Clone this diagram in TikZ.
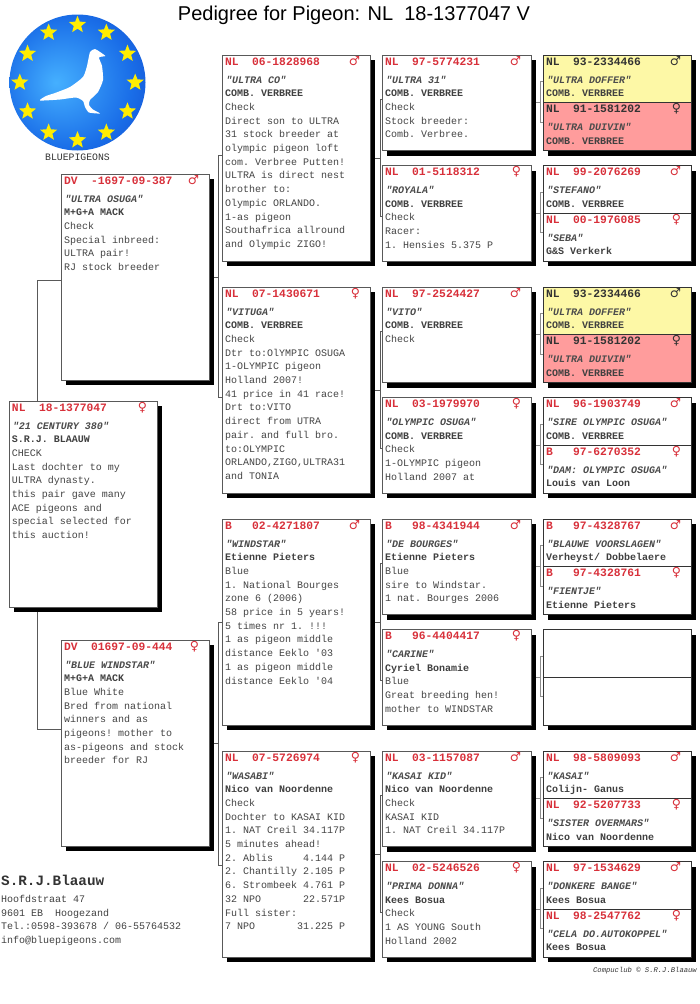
\documentclass[tikz,border=0pt]{standalone}
\usepackage{fontspec}
\setmonofont{Liberation Mono}
\setsansfont{Liberation Sans}
\newfontfamily\sexfont{DejaVu Sans}
\usepackage{xcolor}
\usepackage{tikz}
\usetikzlibrary{positioning, shapes.geometric, shadows, backgrounds}

\definecolor{ringred}{HTML}{D8303A}
\definecolor{bodygray}{HTML}{444444}
\definecolor{hiyellow}{HTML}{FDF8A6}
\definecolor{hipink}{HTML}{FF9C9C}
\definecolor{logolight}{HTML}{45B0FF}
\definecolor{logomid}{HTML}{1A6EE8}
\definecolor{logodark}{HTML}{0A2CB8}
\colorlet{ringcol}{ringred}
\pgfdeclareradialshading{logoblue}{\pgfpoint{-8bp}{0bp}}{color(0bp)=(logolight); color(24bp)=(logomid); color(50bp)=(logodark)}

\newcommand{\ring}[2]{{\fontsize{11.3}{13.7}\selectfont\bfseries\color{ringcol}#1\hfill{\sexfont\bfseries\fontsize{12.5}{13.7}\selectfont#2}\hspace{7pt}}}
\newcommand{\pname}[1]{{\bfseries\itshape\color{black!70}\hspace{1pt}"#1"}}
\newcommand{\owner}[1]{{\bfseries\color{black!75}#1}}

\begin{document}
\begin{tikzpicture}[x=1pt, y=-1pt,
    card/.style={rectangle, draw=black!65, line width=0.8pt, fill=white, outer sep=0pt, inner xsep=3pt, inner ysep=2pt,
        text width=142pt, align=flush left, text height=8pt, font=\ttfamily\fontsize{10}{13.7}\selectfont, text=bodygray,
        drop shadow={shadow xshift=5pt, shadow yshift=-5pt, fill=black, opacity=1}},
    bigcard/.style={card, text depth=194pt},
    midcard/.style={card, text width=143pt, text depth=83.5pt},
    smallcard/.style={card, draw=black!80, text depth=35.75pt},
    yellowcard/.style={smallcard, fill=hiyellow, execute at begin node=\colorlet{ringcol}{black!80}},
    pinkcard/.style={smallcard, fill=hipink, execute at begin node=\colorlet{ringcol}{black!80}},
    link/.style={draw=black!65, line width=0.8pt},
    eustar/.style={star, star points=5, star point ratio=2.3, fill=yellow!95!orange, minimum size=18pt, inner sep=0pt},
    plain/.style={font=\ttfamily\fontsize{10}{13.7}\selectfont, text=black!80, align=left, inner sep=0pt},
]
\useasboundingbox (0,0) rectangle (700,1004);

\node[font=\sffamily\fontsize{20}{24}\selectfont] (title) at (354,15) {Pedigree for Pigeon: NL\ \ 18-1377047 V};

% logo
\node[circle, minimum size=136pt, inner sep=0pt, shading=logoblue] (logo) at (77.5,82.5) {};
\foreach \a in {0,30,...,330}
    \node[eustar] at ([shift={(\a:57.7)}]logo.center) {};
\fill[white] plot[smooth cycle, tension=0.35] coordinates {(105.3,56) (100,52) (95,49) (90,52) (87,66) (83,77) (70,87) (55,93) (46,96) (40,100.5) (60,99.5) (76,97.5) (83,101) (85,107) (89,112.5) (100,113.5) (93,109.5) (89,105) (90,100) (98,92) (103,80) (102,66) (99,57.5)};
\node[plain, font=\ttfamily\fontsize{9.8}{12}\selectfont, below=3pt of logo] (logoname) {BLUEPIGEONS};

% generation 1 and 2
\node[bigcard, anchor=north west] (root) at (9,401) {\ring{NL\ \ 18-1377047}{♀}\\[4.3pt]\pname{21 CENTURY 380}\\\owner{S.R.J. BLAAUW}\\CHECK\\Last dochter to my\\ULTRA dynasty.\\this pair gave many\\ACE pigeons and\\special selected for\\this auction!};
\node[bigcard, above right=21pt and 52pt of root.north west] (s) {\ring{DV\ \ -1697-09-387}{♂}\\[4.3pt]\pname{ULTRA OSUGA}\\\owner{M+G+A MACK}\\Check\\Special inbreed:\\ULTRA pair!\\RJ stock breeder};
\node[bigcard, below right=33pt and 52pt of root.south west] (d) {\ring{DV\ \ 01697-09-444}{♀}\\[4.3pt]\pname{BLUE WINDSTAR}\\\owner{M+G+A MACK}\\Blue White\\Bred from national\\winners and as\\pigeons! mother to\\as-pigeons and stock\\breeder for RJ};

% generation 3
\node[bigcard, anchor=north west] (ss) at (222,55) {\ring{NL\ \ 06-1828968}{♂}\\[4.3pt]\pname{ULTRA CO}\\\owner{COMB. VERBREE}\\Check\\Direct son to ULTRA\\31 stock breeder at\\olympic pigeon loft\\com. Verbree Putten!\\ULTRA is direct nest\\brother to:\\Olympic ORLANDO.\\1-as pigeon\\Southafrica allround\\and Olympic ZIGO!};
\node[bigcard, below=26pt of ss] (sd) {\ring{NL\ \ 07-1430671}{♀}\\[4.3pt]\pname{VITUGA}\\\owner{COMB. VERBREE}\\Check\\Dtr to:OlYMPIC OSUGA\\1-OLYMPIC pigeon\\Holland 2007!\\41 price in 41 race!\\Drt to:VITO\\direct from UTRA\\pair. and full bro.\\to:OLYMPIC\\ORLANDO,ZIGO,ULTRA31\\and TONIA};
\node[bigcard, below=26pt of sd] (ds) {\ring{B\ \ \ 02-4271807}{♂}\\[4.3pt]\pname{WINDSTAR}\\\owner{Etienne Pieters}\\Blue\\1. National Bourges\\zone 6 (2006)\\58 price in 5 years!\\5 times nr 1. !!!\\1 as pigeon middle\\distance Eeklo '03\\1 as pigeon middle\\distance Eeklo '04};
\node[bigcard, below=26pt of ds] (dd) {\ring{NL\ \ 07-5726974}{♀}\\[4.3pt]\pname{WASABI}\\\owner{Nico van Noordenne}\\Check\\Dochter to KASAI KID\\1. NAT Creil 34.117P\\5 minutes ahead!\\2. Ablis\ \ \ \ \ 4.144 P\\2. Chantilly 2.105 P\\6. Strombeek 4.761 P\\32 NPO\ \ \ \ \ \ \ 22.571P\\Full sister:\\7 NPO\ \ \ \ \ \ \ 31.225 P};

% generation 4
\node[midcard, below right=0pt and 12pt of ss.north east] (sss) {\ring{NL\ \ 97-5774231}{♂}\\[4.3pt]\pname{ULTRA 31}\\\owner{COMB. VERBREE}\\Check\\Stock breeder:\\Comb. Verbree.};
\node[midcard, below=15pt of sss] (ssd) {\ring{NL\ \ 01-5118312}{♀}\\[4.3pt]\pname{ROYALA}\\\owner{COMB. VERBREE}\\Check\\Racer:\\1. Hensies 5.375 P};
\node[midcard, below right=0pt and 12pt of sd.north east] (sds) {\ring{NL\ \ 97-2524427}{♂}\\[4.3pt]\pname{VITO}\\\owner{COMB. VERBREE}\\Check};
\node[midcard, below=15pt of sds] (sdd) {\ring{NL\ \ 03-1979970}{♀}\\[4.3pt]\pname{OLYMPIC OSUGA}\\\owner{COMB. VERBREE}\\Check\\1-OLYMPIC pigeon\\Holland 2007 at};
\node[midcard, below right=0pt and 12pt of ds.north east] (dss) {\ring{B\ \ \ 98-4341944}{♂}\\[4.3pt]\pname{DE BOURGES}\\\owner{Etienne Pieters}\\Blue\\sire to Windstar.\\1 nat. Bourges 2006};
\node[midcard, below=15pt of dss] (dsd) {\ring{B\ \ \ 96-4404417}{♀}\\[4.3pt]\pname{CARINE}\\\owner{Cyriel Bonamie}\\Blue\\Great breeding hen!\\mother to WINDSTAR};
\node[midcard, below right=0pt and 12pt of dd.north east] (dds) {\ring{NL\ \ 03-1157087}{♂}\\[4.3pt]\pname{KASAI KID}\\\owner{Nico van Noordenne}\\Check\\KASAI KID\\1. NAT Creil 34.117P};
\node[midcard, below=15pt of dds] (ddd) {\ring{NL\ \ 02-5246526}{♀}\\[4.3pt]\pname{PRIMA DONNA}\\\owner{Kees Bosua}\\Check\\1 AS YOUNG South\\Holland 2002};

% generation 5
\node[yellowcard, below right=0pt and 12pt of sss.north east] (ssss) {\ring{NL\ \ 93-2334466}{♂}\\[4.3pt]\pname{ULTRA DOFFER}\\\owner{COMB. VERBREE}};
\node[pinkcard, below=0pt of ssss] (sssd) {\ring{NL\ \ 91-1581202}{♀}\\[4.3pt]\pname{ULTRA DUIVIN}\\\owner{COMB. VERBREE}};
\node[smallcard, below right=0pt and 12pt of ssd.north east] (ssds) {\ring{NL\ \ 99-2076269}{♂}\\[4.3pt]\pname{STEFANO}\\\owner{COMB. VERBREE}};
\node[smallcard, below=0pt of ssds] (ssdd) {\ring{NL\ \ 00-1976085}{♀}\\[4.3pt]\pname{SEBA}\\\owner{G\&S Verkerk}};
\node[yellowcard, below right=0pt and 12pt of sds.north east] (sdss) {\ring{NL\ \ 93-2334466}{♂}\\[4.3pt]\pname{ULTRA DOFFER}\\\owner{COMB. VERBREE}};
\node[pinkcard, below=0pt of sdss] (sdsd) {\ring{NL\ \ 91-1581202}{♀}\\[4.3pt]\pname{ULTRA DUIVIN}\\\owner{COMB. VERBREE}};
\node[smallcard, below right=0pt and 12pt of sdd.north east] (sdds) {\ring{NL\ \ 96-1903749}{♂}\\[4.3pt]\pname{SIRE OLYMPIC OSUGA}\\\owner{COMB. VERBREE}};
\node[smallcard, below=0pt of sdds] (sddd) {\ring{B\ \ \ 97-6270352}{♀}\\[4.3pt]\pname{DAM: OLYMPIC OSUGA}\\\owner{Louis van Loon}};
\node[smallcard, below right=0pt and 12pt of dss.north east] (dsss) {\ring{B\ \ \ 97-4328767}{♂}\\[4.3pt]\pname{BLAUWE VOORSLAGEN}\\\owner{Verheyst/ Dobbelaere}};
\node[smallcard, below=0pt of dsss] (dssd) {\ring{B\ \ \ 97-4328761}{♀}\\[4.3pt]\pname{FIENTJE}\\\owner{Etienne Pieters}};
\node[smallcard, below right=0pt and 12pt of dsd.north east] (dsds) {};
\node[smallcard, below=0pt of dsds] (dsdd) {};
\node[smallcard, below right=0pt and 12pt of dds.north east] (ddss) {\ring{NL\ \ 98-5809093}{♂}\\[4.3pt]\pname{KASAI}\\\owner{Colijn- Ganus}};
\node[smallcard, below=0pt of ddss] (ddsd) {\ring{NL\ \ 92-5207733}{♀}\\[4.3pt]\pname{SISTER OVERMARS}\\\owner{Nico van Noordenne}};
\node[smallcard, below right=0pt and 12pt of ddd.north east] (ddds) {\ring{NL\ \ 97-1534629}{♂}\\[4.3pt]\pname{DONKERE BANGE}\\\owner{Kees Bosua}};
\node[smallcard, below=0pt of ddds] (dddd) {\ring{NL\ \ 98-2547762}{♀}\\[4.3pt]\pname{CELA DO.AUTOKOPPEL}\\\owner{Kees Bosua}};

% connectors go behind the cards
\begin{scope}[on background layer]
\draw[link] ([yshift=-3pt]s.west) -| ([xshift=28pt]root.north west);
\draw[link] ([yshift=14pt]d.west) -| ([xshift=28pt]root.south west);
\foreach \p/\up/\dn in {s/3/7, d/0/11} {
    \draw[link] ([yshift=\up pt]\p s.west) -- ++(-4,0) |- ([yshift=-\dn pt]\p d.west);
    \draw[link] (\p.east) -- ([xshift=-4pt]\p.east -| \p s.west);
}
\foreach \p in {ss,sd,ds,dd} {
    \draw[link] ([yshift=3pt]\p s.west) -- ++(-2,0) |- ([yshift=-3.5pt]\p d.west);
    \draw[link] (\p.east) -- ([xshift=-2pt]\p.east -| \p s.west);
}
\foreach \p in {sss,ssd,sds,sdd,dss,dsd,dds,ddd} {
    \draw[link, draw=black!45] ([yshift=-3pt]\p s.west) -- ++(-3,0) |- ([yshift=4.5pt]\p d.west);
    \draw[link, draw=black!45] (\p.east) -- ([xshift=-3pt]\p.east -| \p s.west);
}
\end{scope}

% address and credit
\node[plain, anchor=base west, font=\ttfamily\bfseries\fontsize{14.3}{16}\selectfont] (breeder) at (1,885) {S.R.J.Blaauw};
\node[plain, anchor=north west, text=black!75] (address) at (1,895) {Hoofdstraat 47\\9601 EB\ \ Hoogezand\\Tel.:0598-393678 / 06-55764532\\info@bluepigeons.com};
\node[plain, anchor=base east, font=\ttfamily\itshape\fontsize{7.2}{9}\selectfont] (credit) at (697,972) {Compuclub © S.R.J.Blaauw};
\end{tikzpicture}
\end{document}
